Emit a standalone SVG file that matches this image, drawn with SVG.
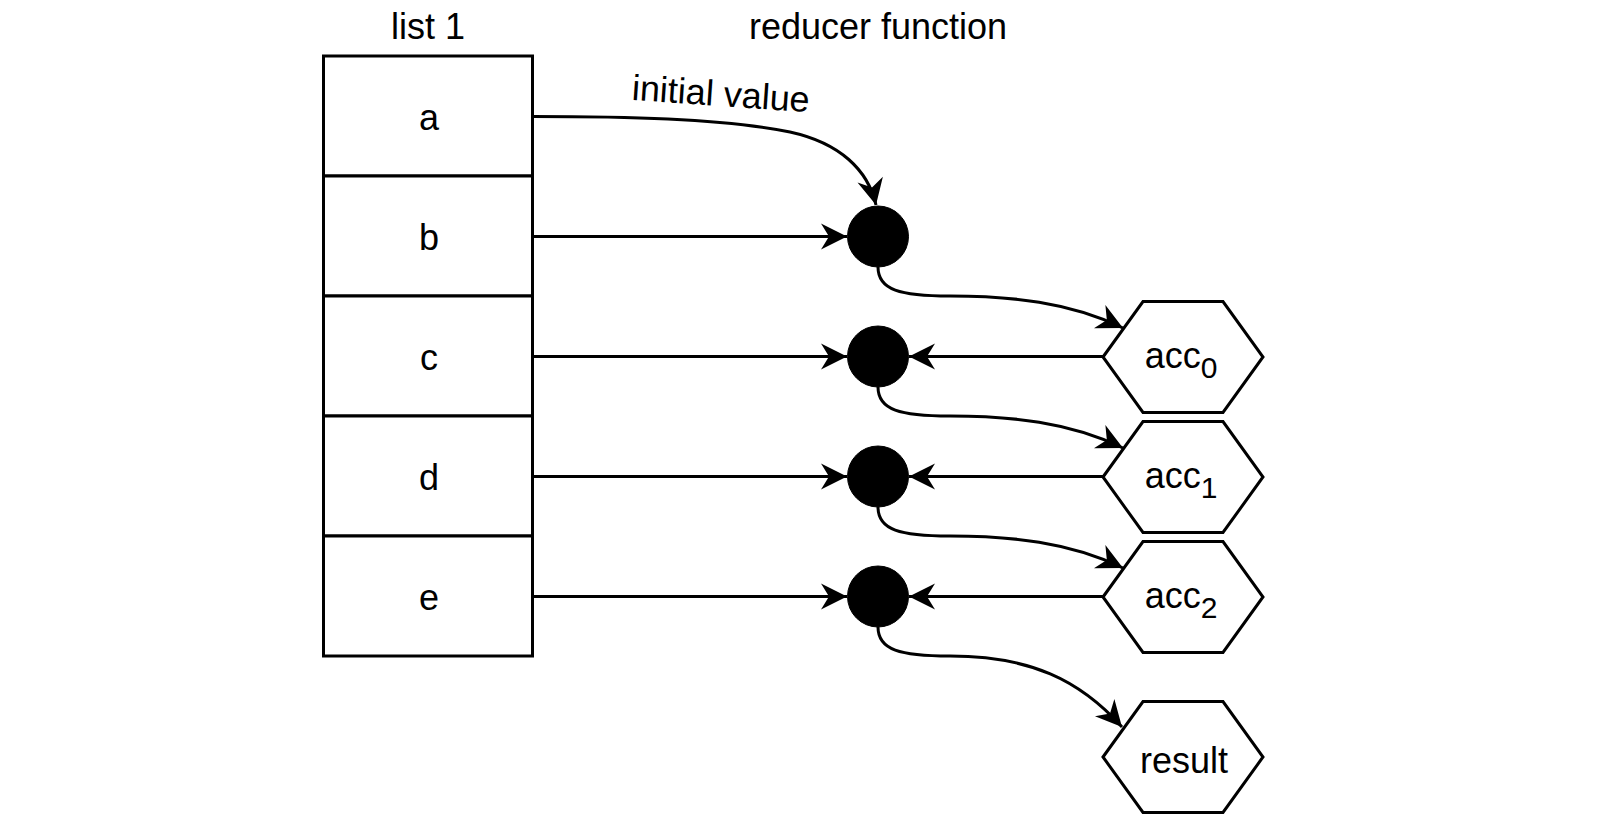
<svg xmlns="http://www.w3.org/2000/svg" width="1600" height="830" viewBox="0 0 1600 830">
  <style>
    text { font-family: "Liberation Sans", Arial, Helvetica, sans-serif; font-size: 36px; fill: #000; text-anchor: middle; }
    .cell { fill: #fff; stroke: #000; stroke-width: 3; }
    .dot { fill: #000; stroke: #000; stroke-width: 1; }
    .hex { fill: #fff; stroke: #000; stroke-width: 3; stroke-linejoin: miter; }
    .edge { fill: none; stroke: #000; stroke-width: 3; marker-end: url(#arrow); }
    .sub { font-size: 30px; }
  </style>
  <defs>
    <marker id="arrow" markerUnits="userSpaceOnUse" markerWidth="40" markerHeight="40" viewBox="-30 -20 40 40" refX="0" refY="0" orient="auto">
      <path d="M0,0 L-26,-13 L-18,0 L-26,13 Z" fill="#000"/>
    </marker>
  </defs>

  <rect width="1600" height="830" fill="#fff"/>

  <g id="titles">
    <text x="428" y="39">list 1</text>
    <text x="878" y="39">reducer function</text>
  </g>

  <g id="list1">
    <g id="cell-a"><rect class="cell" x="323.5" y="56" width="209" height="120"/><text x="429" y="130">a</text></g>
    <g id="cell-b"><rect class="cell" x="323.5" y="176" width="209" height="120"/><text x="429" y="250">b</text></g>
    <g id="cell-c"><rect class="cell" x="323.5" y="296" width="209" height="120"/><text x="429" y="370">c</text></g>
    <g id="cell-d"><rect class="cell" x="323.5" y="416" width="209" height="120"/><text x="429" y="490">d</text></g>
    <g id="cell-e"><rect class="cell" x="323.5" y="536" width="209" height="120"/><text x="429" y="610">e</text></g>
  </g>

  <g id="reducer1"><circle class="dot" cx="878" cy="236.5" r="30.5"/></g>
  <g id="reducer2"><circle class="dot" cx="878" cy="356.5" r="30.5"/></g>
  <g id="reducer3"><circle class="dot" cx="878" cy="476.5" r="30.5"/></g>
  <g id="reducer4"><circle class="dot" cx="878" cy="596.5" r="30.5"/></g>

  <g id="acc0">
    <polygon class="hex" points="1103,357 1143,301.5 1223,301.5 1263,357 1223,412.5 1143,412.5"/>
    <text x="1181" y="368">acc<tspan class="sub" dy="10">0</tspan></text>
  </g>
  <g id="acc1">
    <polygon class="hex" points="1103,477 1143,421.5 1223,421.5 1263,477 1223,532.5 1143,532.5"/>
    <text x="1181" y="488">acc<tspan class="sub" dy="10">1</tspan></text>
  </g>
  <g id="acc2">
    <polygon class="hex" points="1103,597 1143,541.5 1223,541.5 1263,597 1223,652.5 1143,652.5"/>
    <text x="1181" y="608">acc<tspan class="sub" dy="10">2</tspan></text>
  </g>
  <g id="result">
    <polygon class="hex" points="1103,757 1143,701.5 1223,701.5 1263,757 1223,812.5 1143,812.5"/>
    <text x="1184" y="773">result</text>
  </g>

  <g id="connectors">
    <path class="edge" d="M533,116.5 C620,116.5 720,118 790,132 C840,143 868,170 876,205"/>
    <text x="720" y="106" transform="rotate(4 720 106)">initial value</text>

    <path class="edge" d="M533,236.5 L847,236.5"/>
    <path class="edge" d="M533,356.5 L847,356.5"/>
    <path class="edge" d="M533,476.5 L847,476.5"/>
    <path class="edge" d="M533,596.5 L847,596.5"/>

    <path class="edge" d="M1103,356.5 L909,356.5"/>
    <path class="edge" d="M1103,476.5 L909,476.5"/>
    <path class="edge" d="M1103,596.5 L909,596.5"/>

    <path class="edge" d="M878,267 C878,290 900,296 950,296 C1010,296 1070,302 1123,328"/>
    <path class="edge" d="M878,387 C878,410 900,416 950,416 C1010,416 1070,422 1123,448"/>
    <path class="edge" d="M878,507 C878,530 900,536 950,536 C1010,536 1070,542 1123,568"/>
    <path class="edge" d="M878,627 C878,650 900,656 950,656 C1030,656 1080,680 1122,727"/>
  </g>
</svg>
